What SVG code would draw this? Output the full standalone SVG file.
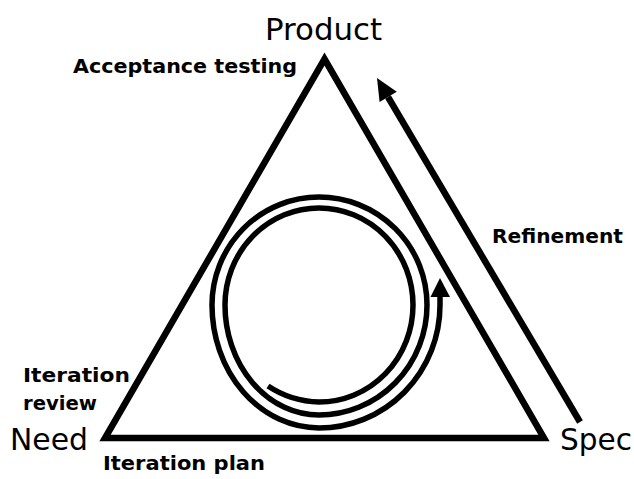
<svg xmlns="http://www.w3.org/2000/svg" width="634" height="479" viewBox="0 0 634 479">
<style>
.line{fill:none;stroke:#000;stroke-width:6.5;stroke-linejoin:miter;stroke-miterlimit:10}
.spiral{fill:none;stroke:#000;stroke-width:5.5}
.big{font-family:"DejaVu Sans",sans-serif;font-size:30px;fill:#000}
.lbl{font-family:"DejaVu Sans",sans-serif;font-size:20px;font-weight:bold;fill:#000}
</style>
<rect width="634" height="479" fill="#fff"/>
<g id="triangle">
<polygon class="line" points="324.5,59 544,438 105,438"/>
</g>
<g id="product"><text class="big" x="265" y="40" textLength="117" lengthAdjust="spacingAndGlyphs">Product</text></g>
<g id="need"><text class="big" x="10" y="450" textLength="78" lengthAdjust="spacingAndGlyphs">Need</text></g>
<g id="spec"><text class="big" x="560" y="450" textLength="72" lengthAdjust="spacingAndGlyphs">Spec</text></g>
<g id="acceptance"><text class="lbl" x="73" y="73" textLength="224" lengthAdjust="spacingAndGlyphs">Acceptance testing</text></g>
<g id="refinement"><text class="lbl" x="492" y="243" textLength="131" lengthAdjust="spacingAndGlyphs">Refinement</text></g>
<g id="review"><text class="lbl" x="23" y="382" textLength="107" lengthAdjust="spacingAndGlyphs">Iteration</text><text class="lbl" x="23" y="410" textLength="74" lengthAdjust="spacingAndGlyphs">review</text></g>
<g id="plan"><text class="lbl" x="103" y="470" textLength="162" lengthAdjust="spacingAndGlyphs">Iteration plan</text></g>
<g id="connectors">
<line class="line" x1="580" y1="422" x2="388" y2="97"/>
<polygon points="377,78 396.8,91.8 379.6,102"/>
<path class="spiral" d="M268,386 A96,96 0 0 0 319,402 A94,97 0 0 0 413,305 A94,97 0 0 0 319,208 A94,97 0 0 0 225,305 A94,110 0 0 0 319,415 A108,110 0 0 0 427,305 A108,108 0 0 0 319,197 A107,108 0 0 0 212,305 A107,123 0 0 0 319,428 A121,123 0 0 0 440,305 L440,296"/>
<polygon points="440,278 430.5,297 450,297"/>
</g>
</svg>
